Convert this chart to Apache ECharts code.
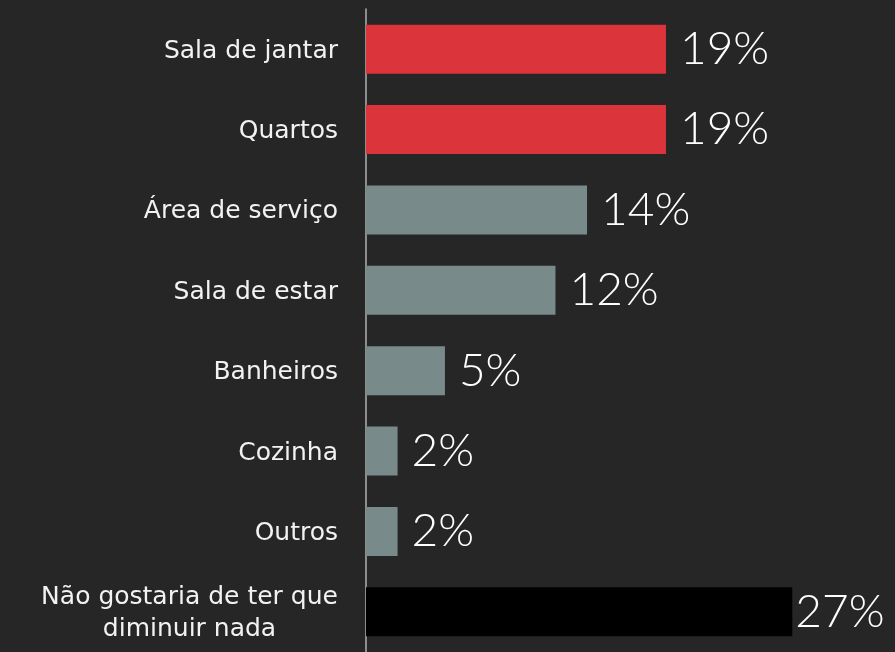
<!DOCTYPE html>
<html>
<head>
<meta charset="utf-8">
<style>
  html, body { margin: 0; padding: 0; background: #262626; }
  #chart { width: 895px; height: 652px; }
</style>
<script src="https://cdn.jsdelivr.net/npm/echarts@6/dist/echarts.min.js"></script>
</head>
<body>
<div id="chart"></div>
<script>
// Cômodos que as pessoas aceitariam diminuir (%)
const categories = [
  'Sala de jantar',
  'Quartos',
  'Área de serviço',
  'Sala de estar',
  'Banheiros',
  'Cozinha',
  'Outros',
  'Não gostaria de ter que\ndiminuir nada'
];
const values = [19, 19, 14, 12, 5, 2, 2, 27];
const barColors = ['#dc343b', '#dc343b', '#798a8b', '#798a8b', '#798a8b', '#798a8b', '#798a8b', '#000000'];

const catFont = '"DejaVu Sans", sans-serif';
const catSize = 25;

// width of the widest line, so multi-line labels can be centred as a block
function textWidth(str) {
  const ctx = document.createElement('canvas').getContext('2d');
  ctx.font = catSize + 'px ' + catFont;
  return Math.ceil(ctx.measureText(str).width);
}

const chart = echarts.init(document.getElementById('chart'));

const seriesData = values.map((v, i) => ({
  value: v,
  itemStyle: { color: barColors[i] },
  label: i === values.length - 1 ? { distance: 3 } : undefined
}));

const multiWidth = Math.max(...categories.filter(c => c.indexOf('\n') >= 0)
  .flatMap(c => c.split('\n')).map(textWidth));

chart.setOption({
  backgroundColor: '#262626',
  animation: false,
  grid: { left: 366, right: 8, top: 9, bottom: -3, containLabel: false },
  xAxis: {
    type: 'value',
    min: 0,
    max: 33,
    show: false
  },
  yAxis: {
    type: 'category',
    data: categories,
    inverse: true,
    axisLine: { show: true, lineStyle: { color: '#b0b0b0', width: 1.5 } },
    axisTick: { show: false },
    axisLabel: {
      margin: 28,
      padding: [4, 0, 0, 0],
      color: '#f2f2f2',
      fontFamily: catFont,
      fontSize: catSize,
      lineHeight: 32,
      formatter: (name) => name.indexOf('\n') >= 0
        ? name.split('\n').map(s => '{c|' + s + '}').join('\n')
        : name,
      rich: {
        c: {
          width: multiWidth,
          align: 'center',
          fontSize: catSize,
          lineHeight: 32,
          color: '#f2f2f2',
          fontFamily: catFont
        }
      }
    }
  },
  series: [{
    type: 'bar',
    data: seriesData,
    barCategoryGap: '39%',
    label: {
      show: true,
      position: 'right',
      distance: 14,
      formatter: '{c}%',
      color: '#ffffff',
      fontFamily: 'Lato, sans-serif',
      fontWeight: 300,
      fontSize: 46
    }
  }]
});
</script>
</body>
</html>
